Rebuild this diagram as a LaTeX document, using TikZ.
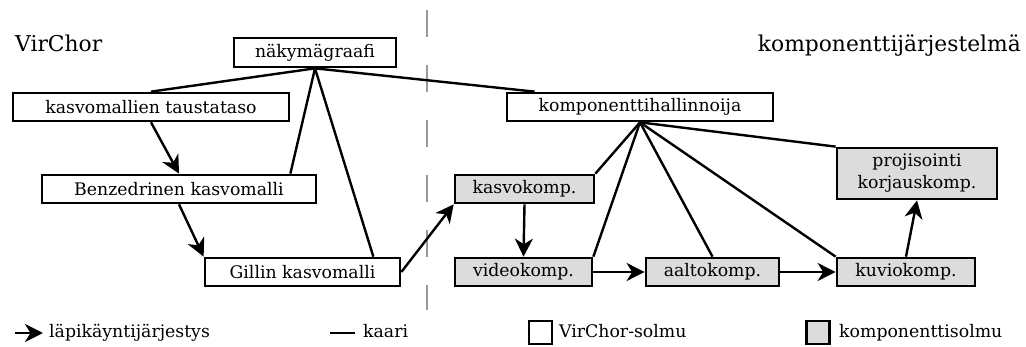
\documentclass[tikz,border=0pt]{standalone}
\usepackage{fontspec}
\setmainfont{DejaVu Serif}
\usetikzlibrary{arrows.meta}
\definecolor{compfill}{HTML}{DCDCDC}
\definecolor{sepgray}{HTML}{999999}
\begin{document}
\begin{tikzpicture}[x=1pt,y=-1pt,
  box/.style={draw, line width=2.7pt, inner sep=0pt, font=\fontsize{17.3}{22}\selectfont, align=center},
  vnode/.style={box, fill=white},
  cnode/.style={box, fill=compfill},
  edge/.style={line width=2.4pt},
  order/.style={line width=2.4pt, -{Stealth[length=18pt,width=18pt,inset=5.5pt]}},
  sep/.style={draw=sepgray, line width=2.2pt, dash pattern=on 27pt off 28pt},
  title/.style={font=\fontsize{21.8}{24}\selectfont, inner sep=0pt},
  legend/.style={font=\fontsize{17.3}{20}\selectfont, inner sep=0pt},
]
\useasboundingbox (0,0) rectangle (1026,347);

% separator
\coordinate (sepTop) at (427,10);
\coordinate (sepBot) at (427,310);
\draw[sep] (sepTop) -- (sepBot);

% titles
\node[title, anchor=base west] (tv) at (15,52) {VirChor};
\node[title, anchor=base east] (tk) at (1021,52) {komponenttijärjestelmä};

% VirChor nodes
\node[vnode, minimum width=162pt, minimum height=29pt] (nak) at (315,52.5) {näkymägraafi};
\node[vnode, minimum width=276pt, minimum height=28pt] (kas) at (151,107) {kasvomallien taustataso};
\node[vnode, minimum width=274pt, minimum height=28pt] (benz) at (179,189) {Benzedrinen kasvomalli};
\node[vnode, minimum width=195pt, minimum height=28pt] (gill) at (302.5,272) {Gillin kasvomalli};
\node[vnode, minimum width=266pt, minimum height=28pt] (komp) at (640,107) {komponenttihallinnoija};

% component nodes
\node[cnode, minimum width=160pt, minimum height=51pt] (proj) at (917,173.5) {projisointi\\korjauskomp.};
\node[cnode, minimum width=139pt, minimum height=28pt] (kasvo) at (524.5,189) {kasvokomp.};
\node[cnode, minimum width=137pt, minimum height=28pt] (video) at (523.5,272) {videokomp.};
\node[cnode, minimum width=133pt, minimum height=28pt] (aalto) at (712.5,272) {aaltokomp.};
\node[cnode, minimum width=138pt, minimum height=28pt] (kuvio) at (906,272) {kuviokomp.};

% edges
\draw[edge] (nak.south) -- (kas.north);
\draw[edge] (nak.south) -- ([xshift=-27pt]benz.north east);
\draw[edge] (nak.south) -- ([xshift=-28pt]gill.north east);
\draw[edge] (nak.south) -- ([xshift=29pt]komp.north west);
\draw[edge] (komp.south) -- (kasvo.north east);
\draw[edge] (komp.south) -- (video.north east);
\draw[edge] (komp.south) -- (aalto.north);
\draw[edge] (komp.south) -- (kuvio.north west);
\draw[edge] (komp.south) -- (proj.north west);

% traversal order
\draw[order] (kas.south) -- (benz.north);
\draw[order] (benz.south) -- (gill.north west);
\draw[order] (gill.east) -- (kasvo.south west);
\draw[order] (kasvo.south) -- (video.north);
\draw[order] (video.east) -- (aalto.west);
\draw[order] (aalto.east) -- (kuvio.west);
\draw[order] (kuvio.north) -- (proj.south);

% legend
\coordinate (la1) at (15,333);
\coordinate (la2) at (43,333);
\draw[order] (la1) -- (la2);
\node[legend, anchor=base west] (lt1) at (49,338) {läpikäyntijärjestys};
\coordinate (lk1) at (330,333);
\coordinate (lk2) at (355,333);
\draw[edge] (lk1) -- (lk2);
\node[legend, anchor=base west] (lt2) at (363,338) {kaari};
\node[vnode, minimum size=23pt] (lv) at (540.5,332.5) {};
\node[legend, anchor=base west] (lt3) at (559,338) {VirChor-solmu};
\node[cnode, minimum size=23pt] (lc) at (818,332.5) {};
\node[legend, anchor=base west] (lt4) at (839,338) {komponenttisolmu};
\end{tikzpicture}
\end{document}
